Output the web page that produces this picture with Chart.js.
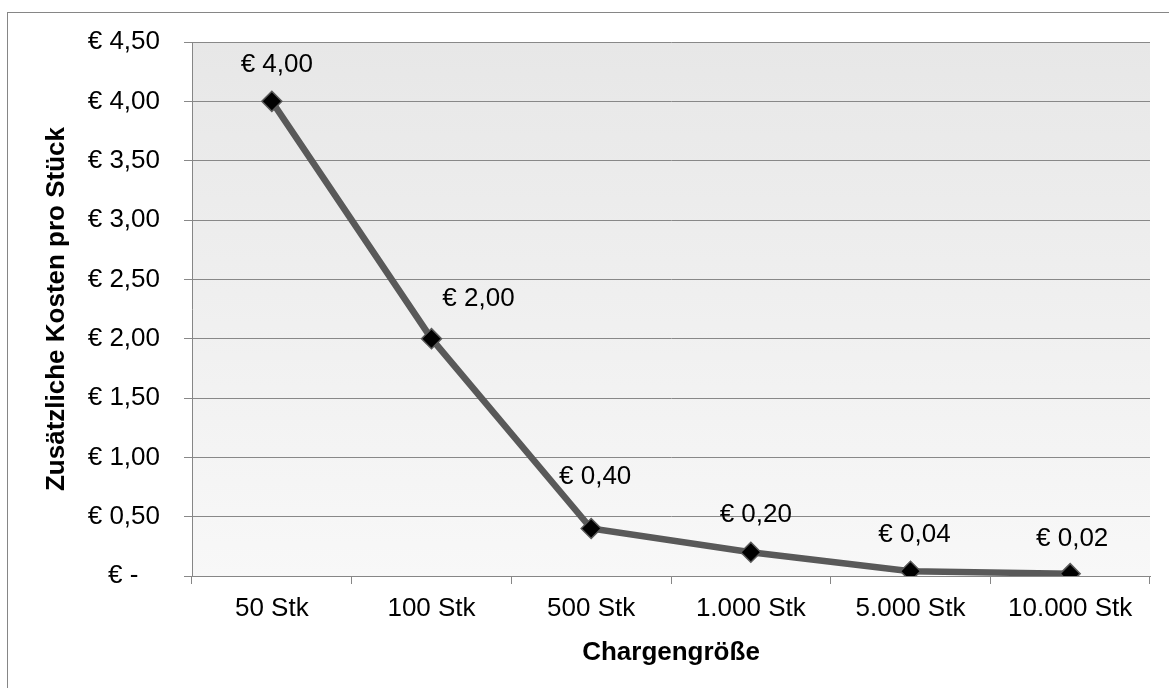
<!DOCTYPE html>
<html>
<head>
<meta charset="utf-8">
<script src="https://cdn.jsdelivr.net/npm/chart.js@4/dist/chart.umd.min.js"></script>
<style>
  body { margin: 0; background: #fff; overflow: hidden; }
</style>
</head>
<body>
<canvas id="myChart" width="1169" height="688"></canvas>
<script>
// ---- DATA ----
const categories = ["50 Stk", "100 Stk", "500 Stk", "1.000 Stk", "5.000 Stk", "10.000 Stk"];
const kosten = [4.0, 2.0, 0.4, 0.2, 0.04, 0.02];
const yMin = 0;
const yMax = 4.5;
const yStep = 0.5;
const xTitle = "Chargengröße";
const yTitle = "Zusätzliche Kosten pro Stück";

// euro format, Excel style
function euro(v) {
  if (v === 0) return "€ -   ";
  return "€ " + v.toFixed(2).replace(".", ",");
}

// ---- plugins ----
const frame = {
  id: "frame",
  beforeDraw(chart) {
    const ctx = chart.ctx;
    const a = chart.chartArea;
    ctx.save();
    // outer border
    ctx.strokeStyle = "#868686";
    ctx.lineWidth = 1;
    ctx.strokeRect(7.5, 12.5, 1300, 800);
    // plot background gradient
    const g = ctx.createLinearGradient(0, a.top, 0, a.bottom);
    g.addColorStop(0, "#e7e7e7");
    g.addColorStop(1, "#f8f8f8");
    ctx.fillStyle = g;
    ctx.fillRect(a.left, a.top, a.right - a.left, a.bottom - a.top);
    ctx.restore();
  }
};

const valueLabels = {
  id: "valueLabels",
  afterDatasetsDraw(chart, args, opts) {
    const ctx = chart.ctx;
    const meta = chart.getDatasetMeta(0);
    ctx.save();
    ctx.font = "26px 'Liberation Sans', Arial, sans-serif";
    ctx.fillStyle = "#000";
    ctx.textAlign = "center";
    ctx.textBaseline = "middle";
    meta.data.forEach((pt, i) => {
      const dx = opts.dx[i];
      const dy = opts.dy[i];
      ctx.fillText(euro(kosten[i]), pt.x + dx, pt.y + dy);
    });
    ctx.restore();
  }
};

// ---- CHART ----
const ctx = document.getElementById("myChart").getContext("2d");

const myChart = new Chart(ctx, {
  type: "line",
  data: {
    labels: categories,
    datasets: [
      {
        data: kosten,
        borderColor: "#595959",
        borderWidth: 6.5,
        pointStyle: "rectRot",
        pointRadius: 10,
        pointBackgroundColor: "#000",
        pointBorderColor: "#595959",
        pointBorderWidth: 1.5,
        tension: 0,
      },
    ],
  },
  options: {
    responsive: false,
    animation: false,
    layout: { padding: { top: 42, right: 19, left: 0, bottom: 0 } },
    plugins: {
      legend: { display: false },
      tooltip: { enabled: false },
      valueLabels: {
        dx: [5, 47, 4, 5, 4, 2],
        dy: [-37, -40, -52, -37, -36, -35],
      },
    },
    scales: {
      x: {
        offset: true,
        grid: {
          offset: true,
          drawOnChartArea: false,
          color: "#868686",
          tickLength: 8,
        },
        border: { color: "#868686", width: 1 },
        ticks: {
          color: "#000",
          padding: 9,
          font: { family: "'Liberation Sans', Arial", size: 26 },
        },
        title: {
          display: true,
          text: xTitle,
          color: "#000",
          padding: { top: 0, bottom: 20 },
          font: { family: "'Liberation Sans', Arial", size: 26, weight: "bold" },
        },
        afterFit(scale) {
          scale.height = 112;
        },
      },
      y: {
        min: yMin,
        max: yMax,
        grid: {
          color: "#888888",
          tickLength: 8,
        },
        border: { color: "#868686", width: 1 },
        ticks: {
          stepSize: yStep,
          color: "#000",
          padding: 24,
          font: { family: "'Liberation Sans', Arial", size: 26 },
          callback: (v) => euro(v),
        },
        title: {
          display: true,
          text: yTitle,
          color: "#000",
          padding: { top: 41, bottom: 0 },
          font: { family: "'Liberation Sans', Arial", size: 26, weight: "bold" },
        },
        afterFit(scale) {
          scale.width = 192;
        },
      },
    },
  },
  plugins: [frame, valueLabels],
});
</script>
</body>
</html>
